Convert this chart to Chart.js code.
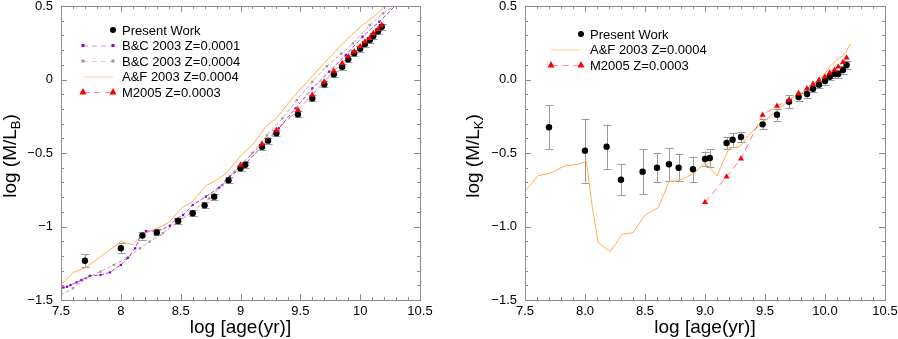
<!DOCTYPE html>
<html>
<head>
<meta charset="utf-8">
<script src="https://cdn.jsdelivr.net/npm/chart.js@4.4.0/dist/chart.umd.min.js"></script>
<style>
  body { margin: 0; background: #fff; }
  #wrap { position: relative; width: 898px; height: 339px; }
  #wrap canvas { position: absolute; top: 0; }
</style>
</head>
<body>
<div id="wrap">
  <canvas id="chartB" width="450" height="339" style="left:0"></canvas>
  <canvas id="chartK" width="448" height="339" style="left:450px"></canvas>
</div>
<script>
// cluster ages, shared by both panels
const ages = [7.7, 8.0, 8.18, 8.3, 8.48, 8.6, 8.7, 8.78, 8.9, 9.0, 9.04, 9.18, 9.23, 9.3,
  9.48, 9.6, 9.7, 9.78, 9.85, 9.9, 9.95, 10.0, 10.04, 10.08, 10.11, 10.15, 10.18];

// present work, log(M/L_B)
const mlB = [-1.233, -1.148, -1.062, -1.04, -0.963, -0.91, -0.856, -0.797, -0.686, -0.604, -0.58,
  -0.457, -0.416, -0.366, -0.237, -0.128, -0.033, 0.035, 0.087, 0.137, 0.178, 0.21, 0.241,
  0.269, 0.296, 0.328, 0.359];
const mlBErr = [0.045, 0.035, 0.027, 0.02, 0.02, 0.02, 0.02, 0.02, 0.02, 0.02, 0.02, 0.02, 0.02,
  0.02, 0.02, 0.02, 0.02, 0.02, 0.02, 0.02, 0.02, 0.02, 0.02, 0.02, 0.02, 0.02, 0.02];

// present work, log(M/L_K)
const mlK = [-0.325, -0.484, -0.457, -0.682, -0.627, -0.6, -0.577, -0.6, -0.611, -0.541, -0.534,
  -0.432, -0.41, -0.391, -0.305, -0.24, -0.151, -0.119, -0.099, -0.063, -0.035, -0.01, 0.019,
  0.037, 0.037, 0.065, 0.099];
const mlKErr = [0.15, 0.218, 0.15, 0.105, 0.153, 0.1, 0.112, 0.09, 0.087, 0.05, 0.06, 0.04, 0.047,
  0.036, 0.035, 0.04, 0.043, 0.026, 0.025, 0.025, 0.025, 0.025, 0.025, 0.025, 0.025, 0.025, 0.025];

// B&C 2003 Z=0.0001 (B band)
const bc1Age = [7.5, 7.52, 7.55, 7.58, 7.63, 7.67, 7.74, 7.83, 7.91, 8.0, 8.06, 8.12, 8.17, 8.21,
  8.31, 8.41, 8.46, 8.52, 8.6, 8.71, 8.82, 8.91, 9.01, 9.05, 9.19, 9.32, 9.46, 9.6, 9.74, 9.88,
  10.02, 10.16, 10.3];
const bc1B = [-1.42, -1.415, -1.41, -1.398, -1.38, -1.364, -1.335, -1.33, -1.312, -1.262, -1.212,
  -1.148, -1.051, -1.031, -1.031, -0.995, -0.949, -0.922, -0.854, -0.797, -0.736, -0.66, -0.6,
  -0.565, -0.446, -0.332, -0.196, -0.06, 0.053, 0.167, 0.291, 0.393, 0.507];

// B&C 2003 Z=0.0004 (B band)
const bc4Age = [7.5, 7.6, 7.71, 7.83, 7.94, 8.05, 8.16, 8.24, 8.35, 8.46, 8.6, 8.74, 8.85, 8.95,
  9.1, 9.22, 9.35, 9.47, 9.6, 9.72, 9.84, 9.94, 10.08, 10.19, 10.3];
const bc4B = [-1.466, -1.42, -1.352, -1.307, -1.262, -1.216, -1.148, -1.103, -1.046, -0.978,
  -0.899, -0.808, -0.718, -0.627, -0.5, -0.38, -0.264, -0.14, -0.015, 0.09, 0.175, 0.245,
  0.371, 0.45, 0.507];

// A&F 2003 Z=0.0004 (B band)
const afAgeB = [7.5, 7.6, 7.71, 7.83, 8.0, 8.1, 8.19, 8.3, 8.4, 8.51, 8.6, 8.71, 8.8, 8.88, 8.95,
  9.02, 9.1, 9.21, 9.3, 9.42, 9.57, 9.71, 9.87, 10.02, 10.13, 10.18, 10.22];
const afB = [-1.398, -1.314, -1.278, -1.205, -1.103, -1.124, -1.051, -1.013, -0.974, -0.872,
  -0.831, -0.724, -0.684, -0.638, -0.57, -0.502, -0.446, -0.321, -0.264, -0.139, -0.003, 0.121,
  0.257, 0.371, 0.439, 0.473, 0.55];

// A&F 2003 Z=0.0004 (K band)
const afAgeK = [7.5, 7.61, 7.71, 7.83, 7.94, 8.01, 8.06, 8.11, 8.21, 8.31, 8.4, 8.5, 8.61, 8.7,
  8.81, 8.91, 9.0, 9.1, 9.2, 9.29, 9.38, 9.49, 9.61, 9.71, 9.85, 9.96, 10.04, 10.1, 10.17, 10.21];
const afK = [-0.759, -0.654, -0.638, -0.588, -0.577, -0.554, -0.865, -1.11, -1.171, -1.053,
  -1.042, -0.922, -0.872, -0.695, -0.679, -0.638, -0.566, -0.656, -0.468, -0.457, -0.366,
  -0.287, -0.203, -0.135, -0.071, -0.003, 0.087, 0.133, 0.178, 0.241];

// M2005 Z=0.0003
const m05Age = [9.0, 9.18, 9.3, 9.48, 9.6, 9.7, 9.78, 9.85, 9.9, 9.95, 10.0, 10.04, 10.08, 10.11,
  10.15, 10.18];
const m05B = [-0.582, -0.439, -0.344, -0.207, -0.105, -0.015, 0.058, 0.11, 0.156, 0.19, 0.224,
  0.257, 0.28, 0.314, 0.341, 0.371];
const m05K = [-0.835, -0.661, -0.539, -0.241, -0.18, -0.139, -0.094, -0.062, -0.031, -0.003,
  0.019, 0.046, 0.065, 0.087, 0.117, 0.148];

const FONT = '"Liberation Sans", Arial, sans-serif';
const FRAME = '#8c8c8c';
const PURPLE = '#9400d3', ROSY = '#b38a8a', ORANGE = '#ffb04c', RED = '#ff0000';

function pts(xs, ys) {
  return xs.map((v, i) => ({ x: v, y: ys[i] }));
}

function drawMarker(ctx, kind, x, y, color) {
  ctx.fillStyle = color;
  ctx.beginPath();
  if (kind === 'dot') {
    ctx.arc(x, y, 3, 0, Math.PI * 2);
  } else if (kind === 'rect') {
    ctx.rect(x - 1.5, y - 1.5, 3, 3);
  } else if (kind === 'tri') {
    ctx.moveTo(x, y - 4);
    ctx.lineTo(x + 3.5, y + 2.5);
    ctx.lineTo(x - 3.5, y + 2.5);
    ctx.closePath();
  }
  ctx.fill();
}

// box round the plot with inward ticks on all four sides
const framePlugin = {
  id: 'frame',
  afterDatasetsDraw(chart) {
    const { ctx, chartArea: a, scales: { x, y } } = chart;
    ctx.save();
    ctx.strokeStyle = FRAME;
    ctx.lineWidth = 1;
    ctx.strokeRect(Math.round(a.left) + 0.5, Math.round(a.top) + 0.5,
      Math.round(a.right - a.left), Math.round(a.bottom - a.top));
    ctx.beginPath();
    for (let i = 0; i <= 30; i++) {
      const v = x.min + i * 0.1;
      const px = Math.round(x.getPixelForValue(v)) + 0.5;
      const len = i % 5 === 0 ? 6 : 3;
      ctx.moveTo(px, a.bottom); ctx.lineTo(px, a.bottom - len);
      ctx.moveTo(px, a.top); ctx.lineTo(px, a.top + len);
    }
    for (let i = 0; i <= 20; i++) {
      const v = y.min + i * 0.1;
      const py = Math.round(y.getPixelForValue(v)) + 0.5;
      const len = i % 5 === 0 ? 6 : 3;
      ctx.moveTo(a.left, py); ctx.lineTo(a.left + len, py);
      ctx.moveTo(a.right, py); ctx.lineTo(a.right - len, py);
    }
    ctx.stroke();
    ctx.restore();
  }
};

// vertical error bars for datasets that carry an errors array
const errorPlugin = {
  id: 'errbars',
  beforeDatasetsDraw(chart) {
    const { ctx, scales: { x, y } } = chart;
    ctx.save();
    ctx.strokeStyle = '#9a9a9a';
    ctx.lineWidth = 1;
    ctx.beginPath();
    chart.data.datasets.forEach(ds => {
      if (!ds.errors) return;
      ds.data.forEach((p, i) => {
        const px = Math.round(x.getPixelForValue(p.x)) + 0.5;
        const y1 = y.getPixelForValue(p.y + ds.errors[i]);
        const y2 = y.getPixelForValue(p.y - ds.errors[i]);
        ctx.moveTo(px, y1); ctx.lineTo(px, y2);
        ctx.moveTo(px - 4, Math.round(y1) + 0.5); ctx.lineTo(px + 4, Math.round(y1) + 0.5);
        ctx.moveTo(px - 4, Math.round(y2) + 0.5); ctx.lineTo(px + 4, Math.round(y2) + 0.5);
      });
    });
    ctx.stroke();
    ctx.restore();
  }
};

// axis titles (y title needs a subscript) and the small legend
const decorPlugin = {
  id: 'decor',
  afterDraw(chart, args, opts) {
    const { ctx, chartArea: a } = chart;
    ctx.save();
    ctx.fillStyle = '#000';
    ctx.textBaseline = 'alphabetic';
    // x title
    ctx.font = '19px ' + FONT;
    ctx.textAlign = 'center';
    ctx.fillText('log [age(yr)]', (a.left + a.right) / 2, 333);
    // y title
    ctx.textAlign = 'left';
    ctx.translate(opts.yTitleX, 156);
    ctx.rotate(-Math.PI / 2);
    ctx.font = '19px ' + FONT;
    const w1 = ctx.measureText('log (M/L').width;
    const w3 = ctx.measureText(')').width;
    ctx.font = '13px ' + FONT;
    const w2 = ctx.measureText(opts.band).width;
    let x0 = -(w1 + w2 + w3) / 2;
    ctx.font = '19px ' + FONT;
    ctx.fillText('log (M/L', x0, 0);
    ctx.font = '13px ' + FONT;
    ctx.fillText(opts.band, x0 + w1, 4);
    ctx.font = '19px ' + FONT;
    ctx.fillText(')', x0 + w1 + w2, 0);
    ctx.restore();

    // legend
    ctx.save();
    ctx.font = '13px ' + FONT;
    ctx.textBaseline = 'middle';
    ctx.textAlign = 'left';
    const L = opts.legend;
    L.items.forEach((it, i) => {
      const yy = L.top + i * L.step;
      const x1 = L.x - 30, x2 = L.x;
      if (it.line) {
        ctx.strokeStyle = it.line;
        ctx.lineWidth = 1;
        ctx.setLineDash(it.dash || []);
        ctx.beginPath();
        ctx.moveTo(x1, yy + 0.5); ctx.lineTo(x2, yy + 0.5);
        ctx.stroke();
        ctx.setLineDash([]);
      }
      if (it.marker) {
        if (it.line) drawMarker(ctx, it.marker, x1, yy, it.color);
        drawMarker(ctx, it.marker, x2, yy, it.color);
      }
      ctx.fillStyle = '#000';
      ctx.fillText(it.label, L.x + 9, yy + 1);
    });
    ctx.restore();
  }
};

function makeChart(id, cfg) {
  const ctx = document.getElementById(id).getContext('2d');
  return new Chart(ctx, {
    type: 'scatter',
    data: { datasets: cfg.datasets },
    options: {
      responsive: false,
      animation: false,
      devicePixelRatio: 1,
      layout: { padding: { top: 6, right: cfg.padRight, left: 0, bottom: 0 } },
      plugins: {
        legend: { display: false },
        tooltip: { enabled: false },
        decor: cfg.decor
      },
      scales: {
        x: {
          type: 'linear', min: 7.5, max: 10.5,
          grid: { display: false, drawTicks: false },
          border: { display: false },
          ticks: {
            stepSize: 0.5, padding: 4, color: '#000', maxRotation: 0,
            font: { family: FONT, size: 13 },
            callback: cfg.xFmt
          },
          afterFit(s) { s.height = 39; s.paddingLeft = 0; s.paddingRight = 0; }
        },
        y: {
          type: 'linear', min: -1.5, max: 0.5,
          grid: { display: false, drawTicks: false },
          border: { display: false },
          ticks: {
            stepSize: 0.5, padding: 8, color: '#000',
            font: { family: FONT, size: 13 },
            callback: cfg.yFmt
          },
          afterFit(s) { s.width = cfg.yWidth; s.paddingTop = 0; s.paddingBottom = 0; }
        }
      }
    },
    plugins: [errorPlugin, framePlugin, decorPlugin]
  });
}

const minus = s => s.replace('-', '\u2212');

function modelLine(xs, ys, line, marker, style, dash, order, r) {
  return {
    data: pts(xs, ys), showLine: true, borderColor: line, borderWidth: 1, borderDash: dash,
    pointStyle: style, pointRadius: r, backgroundColor: marker, pointBorderWidth: 0,
    pointBorderColor: marker, order: order, clip: true
  };
}

const presentB = {
  data: pts(ages, mlB), errors: mlBErr, pointRadius: 3.2, backgroundColor: '#000',
  pointBorderWidth: 0, order: 1
};
const presentK = {
  data: pts(ages, mlK), errors: mlKErr, pointRadius: 3.2, backgroundColor: '#000',
  pointBorderWidth: 0, order: 1
};

makeChart('chartB', {
  padRight: 30, yWidth: 61,
  xFmt: v => String(v),
  yFmt: v => minus(String(v)),
  datasets: [
    modelLine(m05Age, m05B, 'rgba(255,70,70,0.7)', RED, 'triangle', [7, 4], 0, 3.5),
    presentB,
    modelLine(bc1Age, bc1B, 'rgba(148,0,211,0.75)', PURPLE, 'rect', [4, 2], 2, 1.6),
    modelLine(bc4Age, bc4B, 'rgba(179,138,138,0.75)', ROSY, 'rect', [4, 2], 3, 1.6),
    modelLine(afAgeB, afB, ORANGE, ORANGE, 'circle', [], 4, 0)
  ],
  decor: {
    band: 'B', yTitleX: 16,
    legend: {
      x: 113, top: 30, step: 15.5,
      items: [
        { label: 'Present Work', marker: 'dot', color: '#000' },
        { label: 'B&C 2003 Z=0.0001', line: 'rgba(148,0,211,0.45)', dash: [5, 4], marker: 'rect', color: PURPLE },
        { label: 'B&C 2003 Z=0.0004', line: 'rgba(179,138,138,0.45)', dash: [5, 4], marker: 'rect', color: ROSY },
        { label: 'A&F 2003 Z=0.0004', line: '#ffcf94' },
        { label: 'M2005 Z=0.0003', line: 'rgba(255,90,90,0.6)', dash: [7, 4], marker: 'tri', color: RED }
      ]
    }
  }
});

makeChart('chartK', {
  padRight: 13, yWidth: 75,
  xFmt: v => v.toFixed(1),
  yFmt: v => minus(v.toFixed(1)),
  datasets: [
    modelLine(m05Age, m05K, 'rgba(255,70,70,0.7)', RED, 'triangle', [7, 4], 0, 3.5),
    presentK,
    modelLine(afAgeK, afK, ORANGE, ORANGE, 'circle', [], 4, 0)
  ],
  decor: {
    band: 'K', yTitleX: 29,
    legend: {
      x: 131, top: 34, step: 15.5,
      items: [
        { label: 'Present Work', marker: 'dot', color: '#000' },
        { label: 'A&F 2003 Z=0.0004', line: '#ffcf94' },
        { label: 'M2005 Z=0.0003', line: 'rgba(255,90,90,0.6)', dash: [7, 4], marker: 'tri', color: RED }
      ]
    }
  }
});
</script>
</body>
</html>
